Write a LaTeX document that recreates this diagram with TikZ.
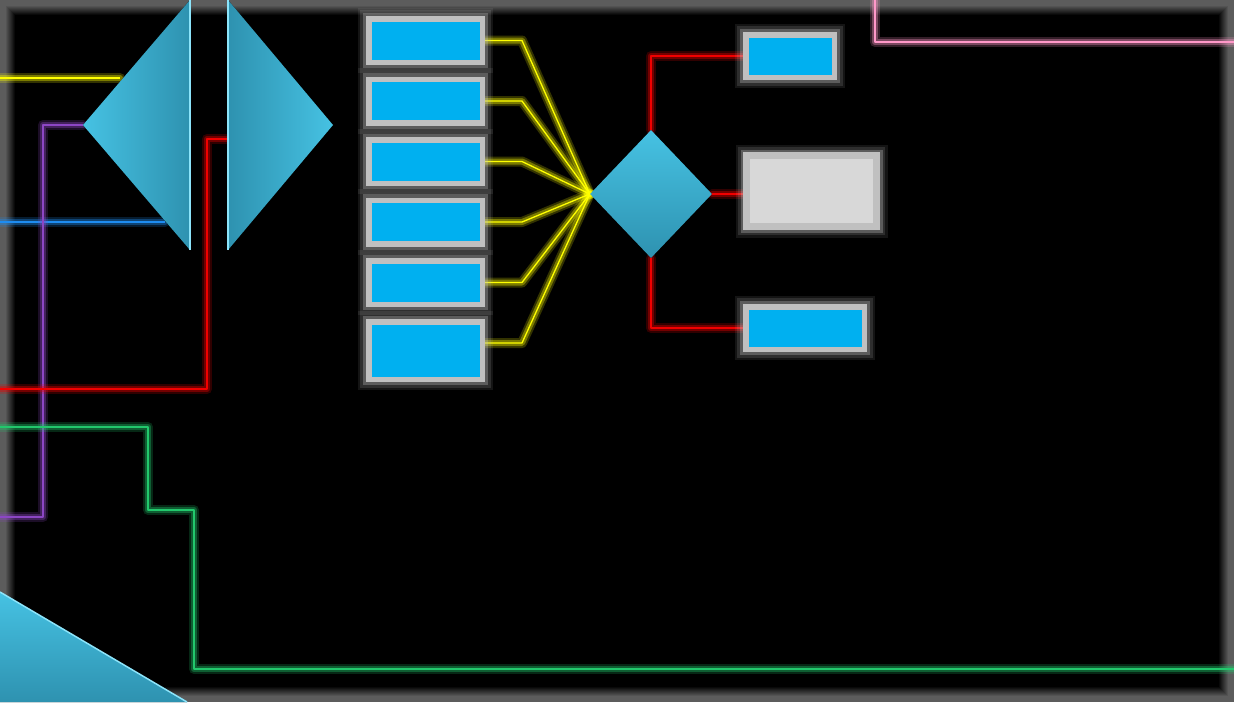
\documentclass[tikz,border=0pt]{standalone}
\usepackage{tikz}
\usepackage{xcolor}
\usetikzlibrary{shapes.geometric}
\definecolor{cyanfill}{HTML}{00B0F0}
\definecolor{framegray}{HTML}{C0C0C0}
\definecolor{panelgray}{HTML}{D8D8D8}
\definecolor{haloGray}{HTML}{C8C8C8}
\definecolor{prismlight}{HTML}{46C2E3}
\definecolor{prismdark}{HTML}{2E92B0}
\definecolor{prismedge}{HTML}{8CE4FA}
\definecolor{neonyellow}{HTML}{FFFF00}
\definecolor{neonpurple}{HTML}{8C46C4}
\definecolor{neonblue}{HTML}{1E8CF0}
\definecolor{neonred}{HTML}{F00000}
\definecolor{neongreen}{HTML}{22C86C}
\definecolor{neonpink}{HTML}{FF98C8}
\pgfdeclarelayer{bg}
\pgfdeclarelayer{wires}
\pgfsetlayers{bg,wires,main}
\def\tilew{113.5}
\def\tileh{43.5}

\begin{document}
\begin{tikzpicture}[x=1pt, y=-1pt,
	neon/.style={draw=#1, line width=1.3pt, line join=round,
		preaction={draw=#1, line width=10pt, opacity=0.2, line cap=round, line join=round},
		preaction={draw=#1, line width=6pt, opacity=0.35, line cap=round, line join=round}},
	halo/.style={preaction={draw=haloGray, line width=22pt, opacity=0.1},
		preaction={draw=haloGray, line width=17pt, opacity=0.15},
		preaction={draw=haloGray, line width=12pt, opacity=0.3}},
	tile/.style={rectangle, halo, draw=framegray, fill=cyanfill, line width=5.5pt, inner sep=0pt,
		minimum width=\tilew pt, minimum height=\tileh pt},
	panel/.style={tile, fill=panelgray, line width=7pt}]
	\useasboundingbox (0,0) rectangle (1234,702);
	\begin{pgfonlayer}{bg}
		\fill[black] (0,0) rectangle (1234,702);
		\foreach \i [evaluate=\i as \g using {min(36,36*(15-\i)/10)}] in {0,...,14}
			\draw[draw=white!\g!black, line width=1.1pt] (\i+0.5,\i+0.5) rectangle (1233.5-\i,701.5-\i);
	\end{pgfonlayer}
	% prisms
	\coordinate (lpt) at (83,125);
	\coordinate (ltop) at (190,0);
	\coordinate (lbot) at (190,250);
	\coordinate (rpt) at (333,125);
	\coordinate (rtop) at (228,0);
	\coordinate (rbot) at (228,250);
	\coordinate (wtop) at (0,592);
	\coordinate (wtip) at (187,702);
	\coordinate (wcorner) at (0,702);
	\fill[left color=prismlight, right color=prismdark] (lpt) -- (ltop) -- (lbot) -- cycle;
	\draw[prismedge, line width=2pt] (ltop) -- (lbot);
	\fill[left color=prismdark, right color=prismlight] (rpt) -- (rtop) -- (rbot) -- cycle;
	\draw[prismedge, line width=2pt] (rtop) -- (rbot);
	\fill[top color=prismlight, bottom color=prismdark] (wtop) -- (wtip) -- (wcorner) -- cycle;
	\draw[prismedge, line width=1.5pt] (wtop) -- (wtip);
	\node[shape=diamond, inner sep=0pt, minimum width=122pt, minimum height=128pt,
		top color=prismlight, bottom color=prismdark] (gate) at (651,194) {};
	% tiles
	\foreach \n [evaluate=\n as \y using 40.5+60.5*(\n-1)] in {1,...,5}
		\node[tile] (t\n) at (425.5,\y) {};
	\node[tile, minimum height=57.5pt] (t6) at (425.5,350.5) {};
	\node[tile, minimum width=88.5pt, minimum height=42.5pt] (o1) at (790,56) {};
	\node[panel, minimum width=130pt, minimum height=71pt] (o2) at (811.5,191) {};
	\node[tile, minimum width=118.5pt, minimum height=42.5pt] (o3) at (805,328) {};
	% wires
	\coordinate (yin) at (0,78);
	\coordinate (yend) at (120,78);
	\coordinate (bin) at (0,222);
	\coordinate (bend) at (165,222);
	\coordinate (pin) at (0,517);
	\coordinate (rfl) at (228,139);
	\coordinate (rin) at (0,389);
	\coordinate (gin) at (0,427);
	\coordinate (gout) at (1234,669);
	\coordinate (kin) at (875,0);
	\coordinate (kout) at (1234,42);
	\begin{pgfonlayer}{wires}
		\draw[neon=neonyellow] (yin) -- (yend);
		\draw[neon=neonblue] (bin) -- (bend);
		\draw[neon=neonpurple] (lpt) -- ++(-40,0) |- (pin);
		\draw[neon=neonred] (rfl) -- ++(-21,0) |- (rin);
		\draw[neon=neongreen] (gin) -| ++(148,83) -| ++(46,159) -- (gout);
		\draw[neon=neonpink] (kin) |- (kout);
		\foreach \n in {1,...,5}
			\draw[neon=neonyellow] (t\n.east) -- ++(37,0) -- (gate.west);
		\draw[neon=neonyellow] ([yshift=7.5pt]t6.east) -- ++(37,0) -- (gate.west);
		\draw[neon=neonred] (gate.north) |- (o1.west);
		\draw[neon=neonred] (gate.east) -- (gate.east -| o2.west);
		\draw[neon=neonred] (gate.south) |- (o3.west);
	\end{pgfonlayer}
\end{tikzpicture}
\end{document}
